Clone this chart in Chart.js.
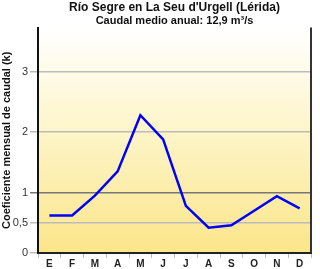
<!DOCTYPE html>
<html>
<head>
<meta charset="utf-8">
<script src="https://cdn.jsdelivr.net/npm/chart.js@4/dist/chart.umd.min.js"></script>
<style>
  html, body { margin: 0; padding: 0; background: #fff; }
  #wrap { width: 320px; height: 269px; }
</style>
</head>
<body>
<div id="wrap"><canvas id="chart" width="320" height="269"></canvas></div>
<script>
const months = ['E', 'F', 'M', 'A', 'M', 'J', 'J', 'A', 'S', 'O', 'N', 'D'];
const caudal = [0.62, 0.62, 0.95, 1.35, 2.28, 1.88, 0.78, 0.42, 0.46, 0.70, 0.94, 0.74];
const yTicks = [0, 0.5, 1, 2, 3];

// yellow background inside the plot area, plus the right frame line
const plotBackground = {
    id: 'plotBackground',
    beforeDraw(chart) {
        const { ctx, chartArea: a } = chart;
        const g = ctx.createLinearGradient(0, a.top, 0, a.bottom);
        g.addColorStop(0, '#ffffff');
        g.addColorStop(0.5, '#fdf4c4');
        g.addColorStop(1, '#fce58a');
        ctx.save();
        ctx.fillStyle = g;
        ctx.fillRect(a.left, a.top, a.right - a.left, a.bottom - a.top);
        ctx.restore();
    },
    afterDraw(chart) {
        const { ctx, chartArea: a } = chart;
        ctx.save();
        ctx.strokeStyle = '#333';
        ctx.lineWidth = 2;
        ctx.beginPath();
        ctx.moveTo(a.right, a.top);
        ctx.lineTo(a.right, a.bottom);
        ctx.stroke();
        ctx.restore();
    }
};

new Chart(document.getElementById('chart').getContext('2d'), {
    type: 'line',
    data: {
        labels: months,
        datasets: [{
            data: caudal,
            borderColor: '#0000ff',
            borderWidth: 2.5,
            pointRadius: 0,
            tension: 0,
            fill: false
        }]
    },
    options: {
        responsive: false,
        animation: false,
        layout: { padding: { left: 0, right: 9, top: 0, bottom: 0 } },
        plugins: {
            legend: { display: false },
            tooltip: { enabled: false },
            title: {
                display: true,
                fullSize: false,
                text: 'Río Segre en La Seu d\'Urgell (Lérida)',
                color: '#111',
                font: { family: 'Liberation Sans', size: 12, weight: 'bold' },
                padding: { top: 0, bottom: 0 }
            },
            subtitle: {
                display: true,
                fullSize: false,
                text: 'Caudal medio anual: 12,9 m³/s',
                color: '#111',
                font: { family: 'Liberation Sans', size: 11, weight: 'bold' },
                padding: { top: 0, bottom: 0 }
            }
        },
        scales: {
            x: {
                offset: true,
                afterFit(scale) {
                    scale.height = 16;
                },
                grid: {
                    offset: true,
                    drawOnChartArea: false,
                    drawTicks: true,
                    tickLength: 5,
                    color: '#bbb'
                },
                border: { color: '#222', width: 2 },
                ticks: {
                    color: '#222',
                    padding: 0,
                    maxRotation: 0,
                    font: { family: 'Liberation Sans', size: 10, weight: 'bold' }
                }
            },
            y: {
                min: 0,
                max: 3.73,
                afterBuildTicks(scale) {
                    scale.ticks = yTicks.map(v => ({ value: v }));
                },
                afterFit(scale) {
                    scale.width = 38;
                },
                grid: {
                    color: ctx => ctx.tick && ctx.tick.value === 1 ? '#777' : '#bbb',
                    lineWidth: 1.5,
                    tickLength: 8
                },
                border: { color: '#111', width: 2 },
                ticks: {
                    color: '#333',
                    padding: 2,
                    font: { family: 'Liberation Sans', size: 11 },
                    callback: v => String(v).replace('.', ',')
                },
                title: {
                    display: true,
                    text: 'Coeficiente mensual de caudal (k)',
                    color: '#111',
                    padding: 0,
                    font: { family: 'Liberation Sans', size: 11, weight: 'bold' }
                }
            }
        }
    },
    plugins: [plotBackground]
});
</script>
</body>
</html>
